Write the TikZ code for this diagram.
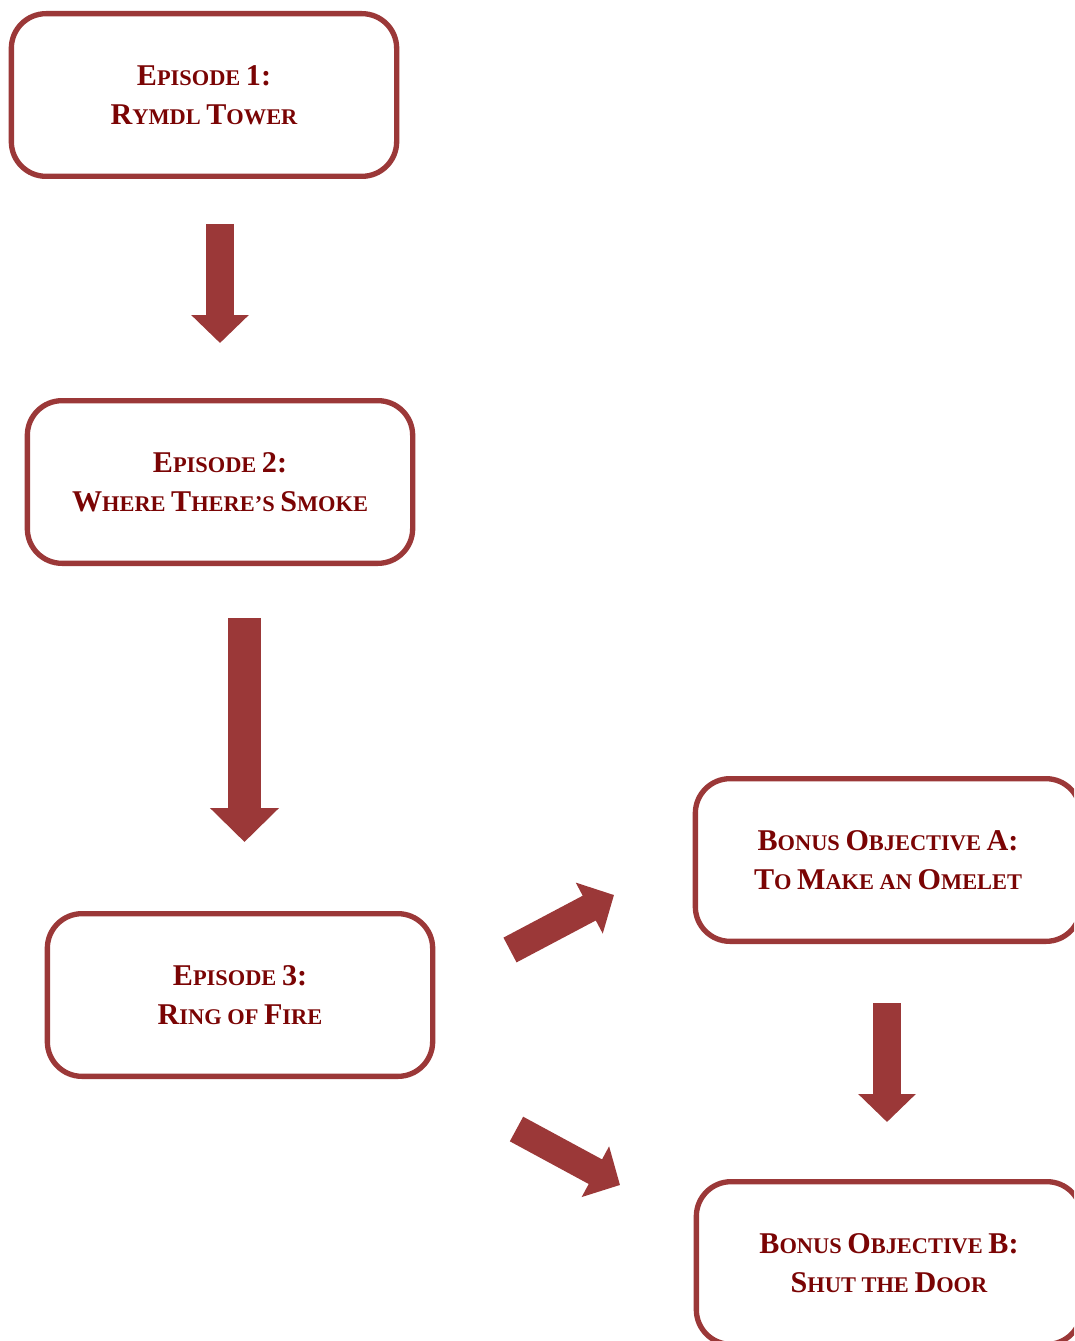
\documentclass[tikz,border=0pt]{standalone}
\usepackage{fontspec}
\setmainfont{Liberation Serif}
\usetikzlibrary{arrows.meta,positioning}
\definecolor{boxred}{RGB}{155,56,56}
\definecolor{textred}{RGB}{122,4,4}
\newcommand\bc[1]{{\fontsize{22.6}{29.25}\selectfont #1}}
\tikzset{
 stagebox/.style={draw=boxred,line width=4pt,rounded corners=26pt,
   minimum width=289pt,minimum height=122pt,align=center,text=textred,
   font=\bfseries\fontsize{16.8}{29.25}\selectfont},
 blockarrow/.style={draw=boxred,line width=21pt,-{Triangle[length=21pt,width=42pt]}},
 bigarrow/.style={draw=boxred,line width=24.75pt,-{Triangle[length=25.5pt,width=50.25pt]}}
}
\begin{document}
\begin{tikzpicture}[x=0.75pt,y=-0.75pt]
 \useasboundingbox (0,0) rectangle (1074,1341);
 \clip (0,0) rectangle (1074,1341);
 \node[stagebox] (ep1) at (204,95) {\bc{E}PISODE \bc{1:}\\\bc{R}YMDL \bc{T}OWER};
 \node[stagebox] (ep2) at (220,482) {\bc{E}PISODE \bc{2:}\\\bc{W}HERE \bc{T}HERE’S \bc{S}MOKE};
 \node[stagebox] (ep3) at (240,995) {\bc{E}PISODE \bc{3:}\\\bc{R}ING OF \bc{F}IRE};
 \node[stagebox] (bonA) at (888,860) {\bc{B}ONUS \bc{O}BJECTIVE \bc{A:}\\\bc{T}O \bc{M}AKE AN \bc{O}MELET};
 \node[stagebox] (bonB) at (889,1263) {\bc{B}ONUS \bc{O}BJECTIVE \bc{B:}\\\bc{S}HUT THE \bc{D}OOR};
 % arrow ends
 \coordinate (t1) at (220,224); \coordinate (h1) at (220,343);
 \coordinate (t2) at (244.5,618); \coordinate (h2) at (244.5,842);
 \coordinate (tA) at (510,950); \coordinate (hA) at (614,895);
 \coordinate (tB) at (516.5,1129); \coordinate (hB) at (620,1185);
 \coordinate (t3) at (887,1003); \coordinate (h3) at (887,1122);
 \draw[blockarrow] (t1)--(h1);
 \draw[bigarrow] (t2)--(h2);
 \draw[blockarrow] (tA)--(hA);
 \draw[blockarrow] (tB)--(hB);
 \draw[blockarrow] (t3)--(h3);
\end{tikzpicture}
\end{document}
